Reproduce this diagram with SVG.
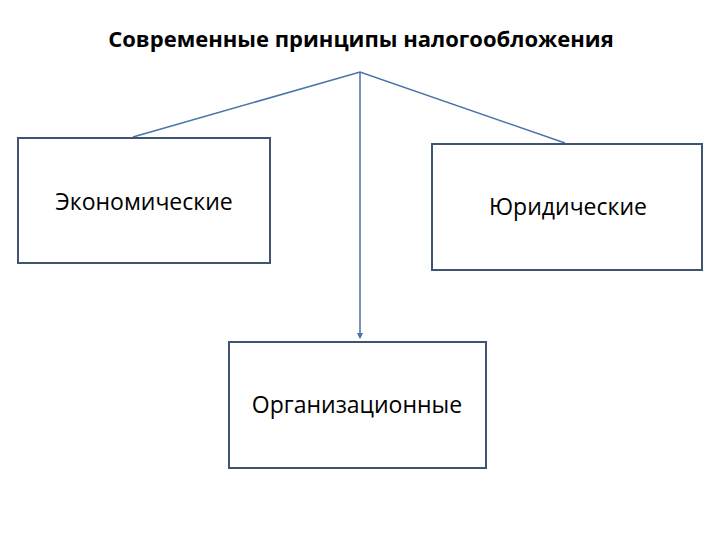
<svg xmlns="http://www.w3.org/2000/svg" width="720" height="540" viewBox="0 0 720 540">
<style>
.box{fill:#fff;stroke:#3f5470;stroke-width:2}
.ln{stroke:#4a72aa;stroke-width:1.5;fill:none}
.t{font-family:"Open Sans","Liberation Sans",sans-serif;font-size:23px;fill:#000}
</style>
<defs><marker id="a" markerWidth="6" markerHeight="6" refX="5" refY="3" orient="auto" markerUnits="userSpaceOnUse"><path d="M0,0 L6,3 L0,6 z" fill="#4a72aa"/></marker></defs>
<rect width="720" height="540" fill="#fff"/>
<text x="361" y="47" text-anchor="middle" class="t" style="font-weight:bold;font-size:22px">Современные принципы налогообложения</text>
<g id="connectors">
<polyline class="ln" points="133,137 360,72 565,143"/>
<line class="ln" x1="360" y1="72" x2="360" y2="338" marker-end="url(#a)"/>
</g>
<g id="n1"><rect class="box" x="18" y="138" width="252" height="125"/><text class="t" x="144" y="210" text-anchor="middle">Экономические</text></g>
<g id="n2"><rect class="box" x="432" y="144" width="270" height="126"/><text class="t" x="568" y="215" text-anchor="middle">Юридические</text></g>
<g id="n3"><rect class="box" x="229" y="342" width="257" height="126"/><text class="t" x="357" y="413" text-anchor="middle">Организационные</text></g>
</svg>
